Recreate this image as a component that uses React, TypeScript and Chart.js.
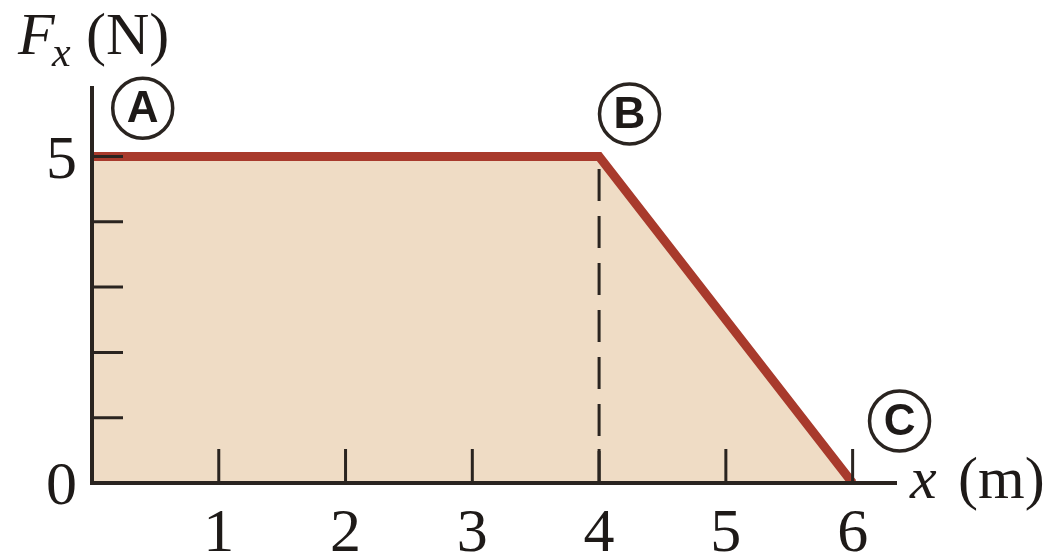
import React, { useEffect, useRef } from "react";
import { Chart, registerables } from "chart.js";

Chart.register(...registerables);

// Data
const positions = [0, 4, 6];
const forces = [5, 5, 0];
const xTickValues = [1, 2, 3, 4, 5, 6];
const xTickLabels = ["1", "2", "3", "4", "5", "6"];
const yTickValues = [0, 1, 2, 3, 4, 5];
const yTickLabels = ["0", "", "", "", "", "5"];
const pointNames = ["A", "B", "C"];
const pointLabelX = [0.4, 4.24, 6.37];
const pointLabelY = [5.74, 5.65, 0.95];
const dashedAtX = 4;

const AXIS = "#2a2420";
const SERIF = '"Liberation Serif", "DejaVu Serif", serif';
const SANS = '"Liberation Sans", Arial, sans-serif';

const overlay = {
  id: "overlay",
  afterDatasetsDraw(chart: any) {
    const ctx = chart.ctx as CanvasRenderingContext2D;
    const xs = chart.scales.x;
    const ys = chart.scales.y;
    const x0 = xs.getPixelForValue(0);
    const y0 = ys.getPixelForValue(0);
    const area = chart.chartArea;
    ctx.save();

    // dashed line (drawn from the axis upward)
    ctx.strokeStyle = AXIS;
    ctx.lineWidth = 3;
    ctx.setLineDash([32, 15]);
    ctx.beginPath();
    const dx = xs.getPixelForValue(dashedAtX);
    ctx.moveTo(dx, y0);
    ctx.lineTo(dx, ys.getPixelForValue(5) + 6);
    ctx.stroke();
    ctx.setLineDash([]);

    // ticks (inward)
    ctx.lineWidth = 3;
    ctx.beginPath();
    yTickValues.forEach((v) => {
      if (v === 0) return;
      const py = ys.getPixelForValue(v);
      ctx.moveTo(x0, py);
      ctx.lineTo(x0 + 31, py);
    });
    xTickValues.forEach((v) => {
      const px = xs.getPixelForValue(v);
      ctx.moveTo(px, y0);
      ctx.lineTo(px, y0 - 34);
    });
    ctx.stroke();

    // axes
    ctx.lineWidth = 4;
    ctx.beginPath();
    ctx.moveTo(x0, area.top);
    ctx.lineTo(x0, y0);
    ctx.lineTo(area.right, y0);
    ctx.stroke();

    // tick labels
    ctx.fillStyle = "#1e1a18";
    ctx.font = `62px ${SERIF}`;
    ctx.textBaseline = "alphabetic";
    ctx.textAlign = "center";
    xTickValues.forEach((v, i) => {
      ctx.fillText(xTickLabels[i], xs.getPixelForValue(v), y0 + 68);
    });
    ctx.textAlign = "right";
    yTickValues.forEach((v, i) => {
      if (!yTickLabels[i]) return;
      ctx.fillText(yTickLabels[i], x0 - 15, ys.getPixelForValue(v) + 21);
    });

    // axis titles
    ctx.textAlign = "left";
    ctx.font = `italic 60px ${SERIF}`;
    ctx.fillText("F", 18, 54);
    ctx.font = `italic 42px ${SERIF}`;
    ctx.fillText("x", 52, 66);
    ctx.font = `60px ${SERIF}`;
    ctx.fillText("(N)", 86, 54);

    ctx.font = `italic 60px ${SERIF}`;
    ctx.fillText("x", 910, 498);
    ctx.font = `60px ${SERIF}`;
    ctx.fillText("(m)", 958, 498);

    // circled labels
    ctx.font = `bold 44px ${SANS}`;
    ctx.textAlign = "center";
    ctx.textBaseline = "middle";
    ctx.lineWidth = 3.5;
    pointNames.forEach((n, i) => {
      const cx = xs.getPixelForValue(pointLabelX[i]);
      const cy = ys.getPixelForValue(pointLabelY[i]);
      ctx.beginPath();
      ctx.arc(cx, cy, 30, 0, Math.PI * 2);
      ctx.stroke();
      ctx.fillText(n, cx, cy + 2);
    });

    ctx.restore();
  },
};

export default function App() {
  const ref = useRef<HTMLCanvasElement>(null);
  useEffect(() => {
    if (!ref.current) return;
    const chart = new Chart(ref.current, {
      type: "line",
      data: {
        datasets: [
          {
            data: positions.map((p, i) => ({ x: p, y: forces[i] })),
            borderColor: "#a83a2c",
            borderWidth: 9,
            backgroundColor: "#efdcc5",
            fill: "origin",
            pointRadius: 0,
            tension: 0,
            borderCapStyle: "butt",
            borderJoinStyle: "miter",
          },
        ],
      },
      options: {
        responsive: false,
        animation: false,
        layout: { padding: { left: 92, right: 162, top: 86, bottom: 75 } },
        plugins: { legend: { display: false }, tooltip: { enabled: false } },
        scales: {
          x: { type: "linear", min: 0, max: 6.35, display: false },
          y: { type: "linear", min: 0, max: 6.08, display: false },
        },
      },
      plugins: [overlay],
    });
    return () => chart.destroy();
  }, []);
  return (
    <div style={{ position: "fixed", left: 0, top: 0, width: 1059, height: 558, background: "#fff" }}>
      <canvas ref={ref} width={1059} height={558} />
    </div>
  );
}
